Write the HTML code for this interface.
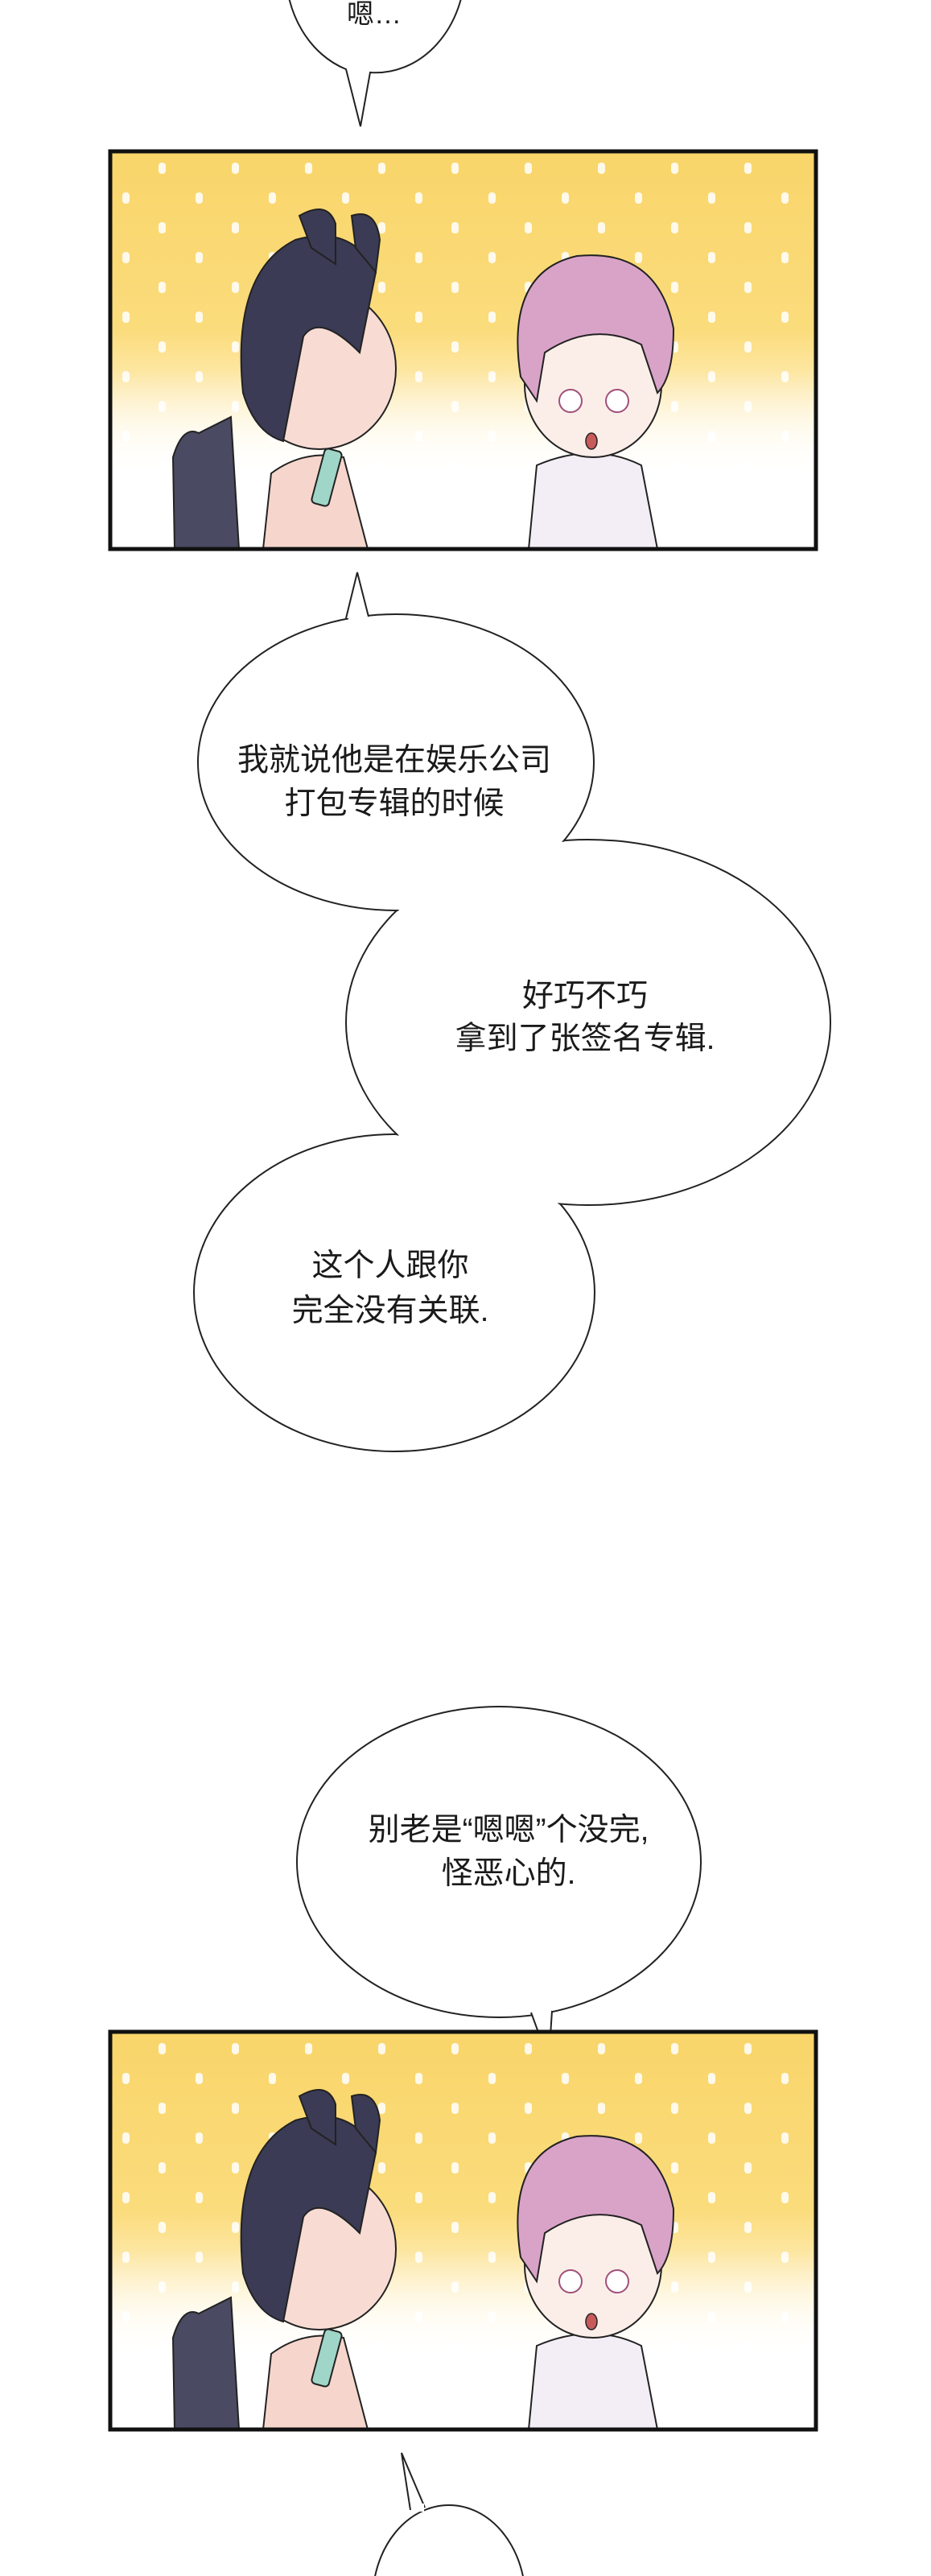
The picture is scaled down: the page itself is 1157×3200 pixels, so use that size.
<!DOCTYPE html>
<html><head><meta charset="utf-8"><style>
html,body{margin:0;padding:0;background:#fff;}
svg{display:block;}
text{font-family:"Liberation Sans","Noto Sans CJK SC",sans-serif;font-size:39px;fill:#1a1a1a;text-anchor:middle;}
</style></head><body>
<svg width="1157" height="3200" viewBox="0 0 1157 3200" xmlns="http://www.w3.org/2000/svg">
<defs>
<linearGradient id="bg" x1="0" y1="0" x2="0" y2="1">
<stop offset="0" stop-color="#f9d56a"/><stop offset="0.45" stop-color="#fbdc7c"/><stop offset="0.72" stop-color="#fff6dc"/><stop offset="1" stop-color="#ffffff"/>
</linearGradient>
<pattern id="dots" x="0" y="0" width="91" height="74" patternUnits="userSpaceOnUse">
<rect x="60" y="14" width="9" height="14" rx="4" fill="#fff" opacity="0.85"/>
<rect x="15" y="51" width="9" height="14" rx="4" fill="#fff" opacity="0.85"/>
</pattern>
<linearGradient id="fade" x1="0" y1="0" x2="0" y2="1"><stop offset="0" stop-color="#fff" stop-opacity="0"/><stop offset="0.55" stop-color="#fff" stop-opacity="0"/><stop offset="0.8" stop-color="#fff" stop-opacity="1"/></linearGradient>
<g id="scene">
<rect x="0" y="0" width="877" height="494" fill="url(#bg)"/>
<rect x="0" y="0" width="877" height="494" fill="url(#dots)"/>
<rect x="0" y="0" width="877" height="494" fill="url(#fade)"/>
<path d="M80 494 L78 380 Q90 340 110 350 L150 330 L160 494Z" fill="#4a4a62" stroke="#222" stroke-width="2"/>
<path d="M190 494 L200 400 Q240 370 290 380 L320 494Z" fill="#f6d6cc" stroke="#222" stroke-width="2"/>
<ellipse cx="260" cy="270" rx="95" ry="100" fill="#f8dcd4" stroke="#222" stroke-width="2"/>
<path d="M165 300 Q150 150 230 110 Q300 90 330 150 L310 250 Q260 200 240 230 L215 360 Q180 350 165 300Z" fill="#3b3b55" stroke="#222" stroke-width="2"/>
<path d="M235 80 Q270 60 280 90 L280 140 L250 120Z" fill="#3b3b55" stroke="#222" stroke-width="2"/>
<path d="M300 80 Q330 70 335 110 L330 150 L305 120Z" fill="#3b3b55" stroke="#222" stroke-width="2"/>
<rect x="258" y="370" width="22" height="70" rx="5" transform="rotate(15 269 405)" fill="#9fd6c8" stroke="#222" stroke-width="2"/>
<path d="M520 494 L530 390 Q600 360 660 390 L680 494Z" fill="#f3eef6" stroke="#222" stroke-width="2"/>
<ellipse cx="600" cy="290" rx="85" ry="90" fill="#fbeee8" stroke="#222" stroke-width="2"/>
<path d="M510 280 Q490 150 580 130 Q680 120 700 220 Q700 280 680 300 L660 240 Q600 210 540 250 L530 310Z" fill="#d9a3c8" stroke="#222" stroke-width="2"/>
<circle cx="572" cy="310" r="14" fill="#fff" stroke="#a0507a" stroke-width="2"/>
<circle cx="630" cy="310" r="14" fill="#fff" stroke="#a0507a" stroke-width="2"/>
<ellipse cx="598" cy="360" rx="7" ry="10" fill="#c95a5a" stroke="#222" stroke-width="1.5"/>
</g>
</defs>

<!-- bubble 1 -->
<path d="M355 -40 A111 131 0 0 0 430 86 L448 157 L460 90 A111 131 0 0 0 578 -40Z" fill="#fff" stroke="#222" stroke-width="2"/>
<text x="465" y="29" style="font-size:34px">嗯…</text>

<!-- panel 1 -->
<g transform="translate(137,188)"><use href="#scene"/></g>
<rect x="137" y="188" width="877" height="494" fill="none" stroke="#111" stroke-width="5"/>

<!-- merged cloud: strokes -->
<g fill="#fff" stroke="#222" stroke-width="2">
<ellipse cx="490" cy="1606" rx="249" ry="197"/>
<ellipse cx="731" cy="1270" rx="301" ry="227"/>
<ellipse cx="492" cy="947" rx="246" ry="184"/>
<path d="M430 768 L444 711 L458 766"/>
</g>
<!-- fills to remove interior lines -->
<g fill="#fff">
<ellipse cx="490" cy="1606" rx="247.5" ry="195.5"/>
<ellipse cx="731" cy="1270" rx="299.5" ry="225.5"/>
<ellipse cx="492" cy="947" rx="244.5" ry="182.5"/>
<rect x="433" y="764" width="22" height="8"/>
</g>
<text x="490" y="957">我就说他是在娱乐公司</text>
<text x="490" y="1011">打包专辑的时候</text>
<text x="727" y="1250">好巧不巧</text>
<text x="727" y="1303">拿到了张签名专辑.</text>
<text x="485" y="1585">这个人跟你</text>
<text x="485" y="1641">完全没有关联.</text>

<!-- bubble 5 -->
<ellipse cx="620" cy="2313" rx="251" ry="193" fill="#fff" stroke="#222" stroke-width="2"/>
<path d="M660 2500 L682 2560 L686 2498" fill="#fff" stroke="#222" stroke-width="2"/>
<rect x="662" y="2492" width="22" height="8" fill="#fff"/>
<text x="632" y="2286">别老是“嗯嗯”个没完,</text>
<text x="632" y="2340">怪恶心的.</text>

<!-- panel 2 -->
<g transform="translate(137,2524)"><use href="#scene"/></g>
<rect x="137" y="2524" width="877" height="494" fill="none" stroke="#111" stroke-width="5"/>

<!-- bottom bubble -->
<ellipse cx="558" cy="3230" rx="95" ry="118" fill="#fff" stroke="#222" stroke-width="2"/>
<path d="M510 3118 L499 3047 L528 3115" fill="#fff" stroke="#222" stroke-width="2"/>
<rect x="511" y="3110" width="16" height="10" fill="#fff"/>
</svg>
</body></html>
